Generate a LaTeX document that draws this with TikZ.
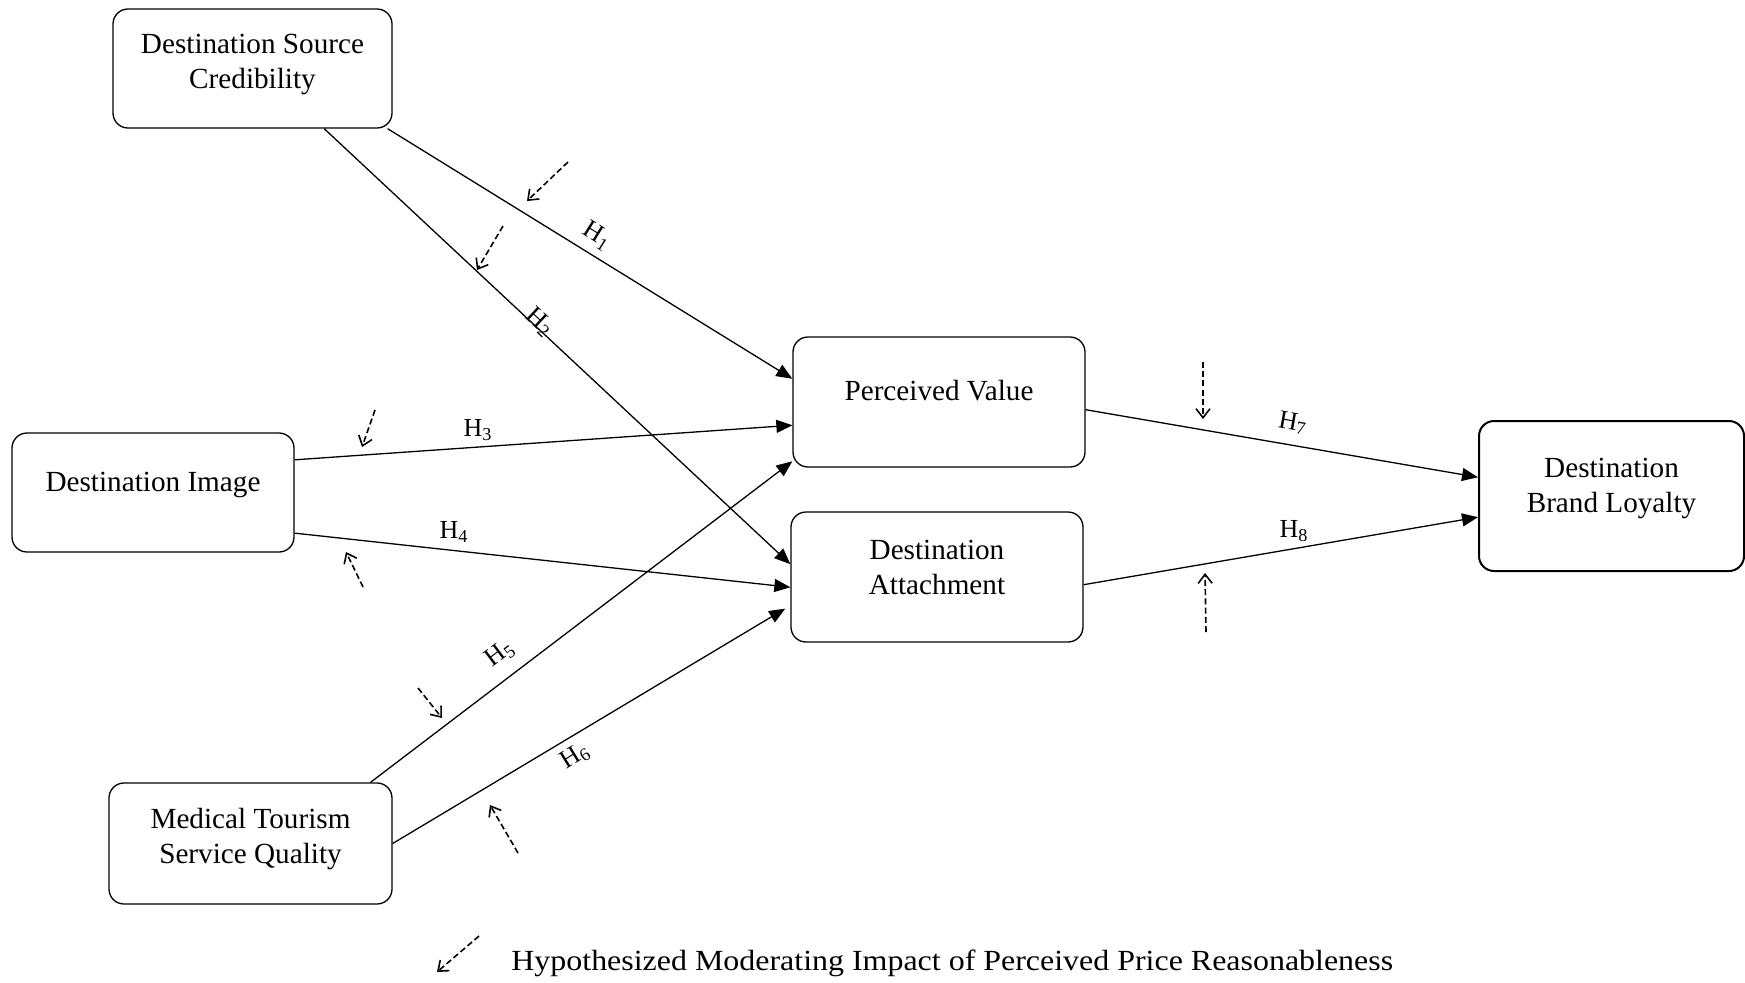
\documentclass[tikz,border=0pt]{standalone}
\usepackage{fontspec}
\usepackage{graphicx}
\setmainfont{Liberation Serif}
\usetikzlibrary{arrows.meta}
% two centred lines whose reference point is the first baseline
\newcommand{\twolines}[2]{\begin{tabular}[t]{@{}c@{}}#1\\#2\end{tabular}}

\begin{document}
\begin{tikzpicture}[x=0.5pt, y=-0.5pt,
  box/.style={draw, line width=0.65pt, rounded corners=7.5pt, inner sep=0pt},
  txt/.style={font=\fontsize{14.6pt}{17.5pt}\selectfont, inner sep=0pt, anchor=base},
  hyp/.style={font=\fontsize{13pt}{15pt}\selectfont, inner sep=0pt},
  conn/.style={line width=0.65pt, -{Triangle[length=8pt, width=6.5pt]}},
  mod/.style={line width=0.8pt, dash pattern=on 3pt off 1.6pt,
              -{Straight Barb[length=4.5pt, width=7pt]}}]

\useasboundingbox (0,0) rectangle (1745,982);

% constructs
\node[box, minimum width=139.5pt, minimum height=59.5pt] (dsc) at (252.5,68.5) {};
\node[box, minimum width=146pt,   minimum height=65pt]   (pv)  at (939,402)   {};
\node[box, minimum width=146pt,   minimum height=65pt]   (da)  at (937,577)   {};
\node[box, minimum width=141pt,   minimum height=59.5pt] (di)  at (153,492.5) {};
\node[box, minimum width=141.5pt, minimum height=60.5pt] (mt)  at (250.5,843.5) {};
\node[box, line width=1pt, minimum width=132.5pt, minimum height=75pt] (dbl) at (1611.5,496) {};

\node[txt] (dsc-t) at (252.5,53)  {\twolines{Destination Source}{Credibility}};
\node[txt] (pv-t)  at (939,400)   {Perceived Value};
\node[txt] (da-t)  at (937,559)   {\twolines{Destination}{Attachment}};
\node[txt] (di-t)  at (153,491)   {Destination Image};
\node[txt] (mt-t)  at (250.5,828) {\twolines{Medical Tourism}{Service Quality}};
\node[txt] (dbl-t) at (1611.5,477) {\twolines{Destination}{Brand Loyalty}};

% hypothesised paths
\draw[conn] (dsc.-24)   -- (pv.171.8);
\draw[conn] (dsc.-40.6) -- (da.175.7);
\draw[conn] (di.13.4)   -- (pv.-171);
\draw[conn] (di.-16)    -- (da.-176.1);
\draw[conn] (mt.27.65)  -- (pv.-158.7);
\draw[conn, shorten >=3pt] (mt.-0.6) -- (da.-169.9);
\draw[conn] (pv.-3.1)   -- (dbl.172.7);
\draw[conn] (da.-3.5)   -- (dbl.-171);

% path labels
\node[hyp, rotate=-32]   (h1) at (597,236)  {H\textsubscript{1}};
\node[hyp, rotate=-43]   (h2) at (540,322)  {H\textsubscript{2}};
\node[hyp]               (h3) at (478,430)  {H\textsubscript{3}};
\node[hyp]               (h4) at (454,532)  {H\textsubscript{4}};
\node[hyp, rotate=37]    (h5) at (500,654)  {H\textsubscript{5}};
\node[hyp, rotate=31.6]  (h6) at (575,756)  {H\textsubscript{6}};
\node[hyp, rotate=-10]   (h7) at (1293,423) {H\textsubscript{7}};
\node[hyp]               (h8) at (1294,531) {H\textsubscript{8}};

% moderating effects
\draw[mod] (568,162)  -- (527,201);
\draw[mod] (503,226)  -- (477,270);
\draw[mod] (375,410)  -- (362,447);
\draw[mod] (363,587)  -- (346,552);
\draw[mod] (418,688)  -- (442,718);
\draw[mod] (518,853)  -- (490,805);
\draw[mod] (1203,362) -- (1203,419);
\draw[mod] (1206,632) -- (1205,573);

% legend
\draw[mod] (479,936) -- (437,972);
\node[txt, anchor=base west] (legend) at (511,970)
  {\scalebox{1.094}[1]{Hypothesized Moderating Impact of Perceived Price Reasonableness}};
\end{tikzpicture}
\end{document}
